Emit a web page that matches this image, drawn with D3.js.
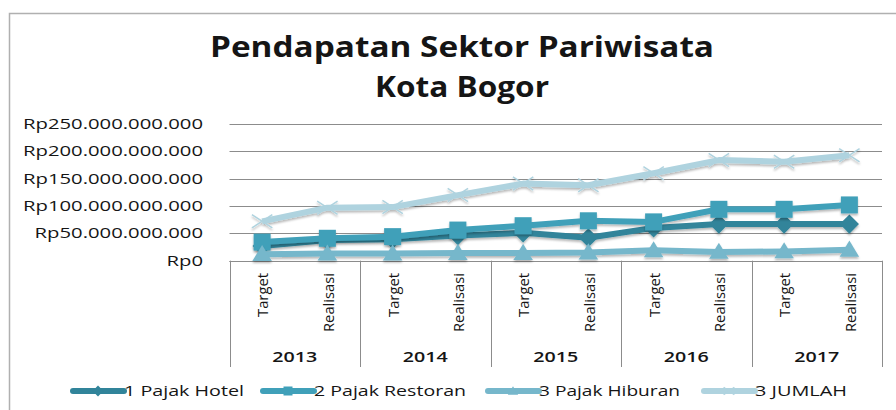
<!DOCTYPE html>
<html><head><meta charset="utf-8">
<script src="https://cdn.jsdelivr.net/npm/d3@7/dist/d3.min.js"></script>
<style>body{margin:0;background:#fff}svg{display:block}text{font-family:"Open Sans",sans-serif;fill:#151515}</style>
</head><body><svg id="c" width="896" height="410"></svg>
<script>
// ---- data (values in billions of Rupiah) ----
const years = ["2013","2014","2015","2016","2017"];
const phases = ["Target","Realisasi"];
const yTicks = [0,50,100,150,200,250];
const yTickLabels = ["Rp0","Rp50.000.000.000","Rp100.000.000.000","Rp150.000.000.000","Rp200.000.000.000","Rp250.000.000.000"];
const seriesNames = ["1 Pajak Hotel","2 Pajak Restoran","3 Pajak Hiburan","3 JUMLAH"];
const hotel    = [27, 38, 39, 46, 51, 42, 60, 67, 67, 67];
const restoran = [34, 41, 44, 56, 64, 73, 71, 94, 94, 102];
const hiburan  = [12, 13, 13, 14, 14, 15, 19, 16, 17, 20];
const jumlah   = [72, 97, 98, 120, 141, 138, 160, 184, 181, 193];
const titleLines = ["Pendapatan Sektor Pariwisata","Kota Bogor"];

const categories = [];
years.forEach(y => phases.forEach(p => categories.push(y + "|" + p)));
const series = [
  {name: seriesNames[0], values: hotel,    color: "#31849a", marker: "diamond"},
  {name: seriesNames[1], values: restoran, color: "#40a0b9", marker: "square"},
  {name: seriesNames[2], values: hiburan,  color: "#76b7cb", marker: "triangle"},
  {name: seriesNames[3], values: jumlah,   color: "#afd3df", marker: "x"}
];

const svg = d3.select("#c");
const defs = svg.append("defs");
const f = defs.append("filter").attr("id","sh").attr("x","-30%").attr("y","-30%").attr("width","160%").attr("height","180%");
f.append("feDropShadow").attr("dx",0).attr("dy",2).attr("stdDeviation",1.3).attr("flood-color","#000").attr("flood-opacity",0.28);

function fit(sel, w){ sel.attr("textLength", w).attr("lengthAdjust","spacingAndGlyphs"); }

// chart border
svg.append("path").attr("d","M9.5,420 V13.5 H896").attr("fill","none").attr("stroke","#b0b0b0").attr("stroke-width",1.5);

// title
const tw = [504, 174], tb = [57, 97];
titleLines.forEach((t,i)=>{
  svg.append("text").attr("x",462).attr("y",tb[i]).attr("text-anchor","middle")
    .style("font-size","28px").style("font-weight","700").text(t).call(fit, tw[i]);
});

const left = 229.5, right = 882, y0 = 260.7, yTop = 124;
const x = d3.scaleBand().domain(categories).range([left, right]).padding(0);
const y = d3.scaleLinear().domain([0,250]).range([y0, yTop]);
const xc = c => x(c) + x.bandwidth()/2;

// gridlines
yTicks.forEach((v,i)=>{
  svg.append("line").attr("x1",left).attr("x2",right).attr("y1",Math.round(y(v))+0.5).attr("y2",Math.round(y(v))+0.5)
    .attr("stroke","#8c8c8c").attr("stroke-width",1);
});
// y labels
const wmax = 180;
const ylab = svg.append("g");
yTicks.forEach((v,i)=>{
  ylab.append("text").attr("x",203).attr("y",y(v)).attr("dy","0.36em").attr("text-anchor","end")
    .style("font-size","14px").text(yTickLabels[i]);
});
let nat = []; ylab.selectAll("text").each(function(){ nat.push(this.getComputedTextLength()); });
const kY = wmax / d3.max(nat);
ylab.selectAll("text").each(function(d,i){ d3.select(this).call(fit, nat[i]*kY); });

// category axis box
const bottom = 367;
svg.append("line").attr("x1",left).attr("x2",right).attr("y1",Math.round(y0)+0.5).attr("y2",Math.round(y0)+0.5).attr("stroke","#8c8c8c");
const yearBounds = years.map(yr => x(yr+"|Target")).concat([right]);
yearBounds.forEach(bx=>{
  svg.append("line").attr("x1",Math.round(bx)+0.5).attr("x2",Math.round(bx)+0.5).attr("y1",y0).attr("y2",bottom).attr("stroke","#8c8c8c");
});
const phaseLen = {"Target":44, "Realisasi":59};
categories.forEach(c=>{
  const ph = c.split("|")[1];
  svg.append("text").attr("transform",`translate(${xc(c)+1},273) rotate(-90)`)
    .attr("text-anchor","end").attr("dy","0.35em")
    .style("font-size","15px").text(ph).call(fit, phaseLen[ph]);
});
years.forEach(yr=>{
  const cx = (x(yr+"|Target") + x(yr+"|Realisasi") + x.bandwidth())/2;
  svg.append("text").attr("x",cx).attr("y",362).attr("text-anchor","middle")
    .style("font-size","14px").style("font-weight","600").text(yr).call(fit, 45);
});

// markers
function drawMarker(g, type, cx, cy, color, s){
  if(type==="square"){
    g.append("rect").attr("x",cx-s/2).attr("y",cy-s/2).attr("width",s).attr("height",s).attr("fill",color);
  } else if(type==="diamond"){
    const r = s*0.6;
    g.append("path").attr("d",`M${cx},${cy-r}L${cx+r},${cy}L${cx},${cy+r}L${cx-r},${cy}Z`).attr("fill",color);
  } else if(type==="triangle"){
    const h = s*0.9, w = s*1.15;
    g.append("path").attr("d",`M${cx},${cy-h*0.6}L${cx+w/2},${cy+h*0.45}L${cx-w/2},${cy+h*0.45}Z`).attr("fill",color);
  } else {
    const r = s*0.6;
    g.append("path").attr("d",`M${cx-r},${cy-r*0.65}L${cx+r},${cy+r*0.65}M${cx-r},${cy+r*0.65}L${cx+r},${cy-r*0.65}`)
      .attr("stroke",color).attr("stroke-width",1.5).attr("fill","none");
  }
}

const line = d3.line().x((d,i)=>xc(categories[i])).y(d=>y(d));
const mSize = {square:17, diamond:16, triangle:17, x:17};
series.forEach(s=>{
  const g = svg.append("g").attr("filter","url(#sh)");
  g.append("path").attr("d", line(s.values)).attr("fill","none").attr("stroke",s.color)
    .attr("stroke-width",6).attr("stroke-linejoin","round");
  s.values.forEach((v,i)=> drawMarker(g, s.marker, xc(categories[i]), y(v), s.color, mSize[s.marker]));
});

// legend
const legX = [73, 263, 488, 704], legT = [120, 152, 141, 92], legY = 391;
series.forEach((s,i)=>{
  const g = svg.append("g");
  g.append("line").attr("x1",legX[i]).attr("x2",legX[i]+51).attr("y1",legY).attr("y2",legY)
    .attr("stroke",s.color).attr("stroke-width",6).attr("stroke-linecap","round");
  drawMarker(g, s.marker, legX[i]+25, legY, s.color, 9);
  g.append("text").attr("x",legX[i]+51).attr("y",legY).attr("dy","0.36em")
    .style("font-size","14px").text(s.name).call(fit, legT[i]);
});
</script></body></html>
